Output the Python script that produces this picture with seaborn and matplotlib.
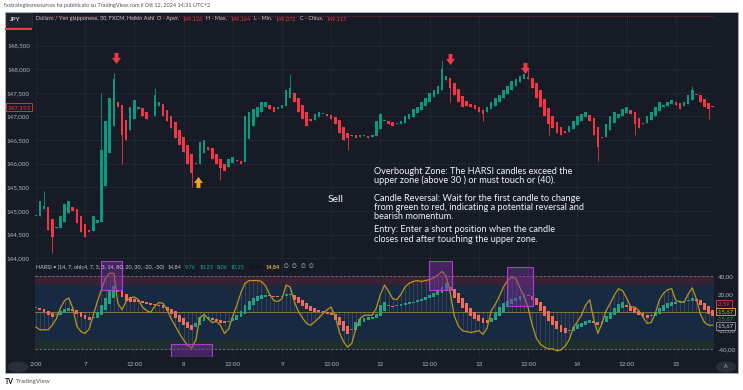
import numpy as np
import pandas as pd
import matplotlib
matplotlib.use("Agg")
import matplotlib.pyplot as plt
from matplotlib.patches import Rectangle, Circle
from matplotlib.path import Path
import seaborn as sns

# USD/JPY Heikin Ashi + HARSI, valori letti a occhio dal grafico (1 valore per ora)
# indice 0 = giorno 7 ore 00:00, il weekend e' saltato come su TradingView
price_close = [
    144.9, 145.2, 145.1, 144.6, 144.45, 144.65, 144.9, 145.15, 145.2, 145.0, 144.75, 144.55,
    144.45, 144.55, 144.9, 144.8, 146.3, 146.9, 147.4, 147.8, 147.2, 146.6, 146.5, 147.2,
    147.35, 147.2, 147.0, 146.95, 147.0, 147.45, 147.3, 147.0, 146.9, 146.75, 146.55, 146.4,
    146.25, 146.0, 145.8, 146.0, 146.45, 146.5, 146.3, 146.1, 146.0, 145.9, 145.85, 146.1,
    146.15, 146.05, 146.0, 147.0, 147.1, 147.15, 147.2, 147.3, 147.3, 147.15, 147.1, 147.2,
    147.25, 147.55, 147.6, 147.3, 147.1, 146.95, 146.8, 146.9, 147.05, 147.1, 147.05, 147.0,
    146.95, 146.85, 146.65, 146.5, 146.55, 146.6, 146.55, 146.6, 146.6, 146.55, 146.6, 146.9,
    147.05, 146.9, 146.85, 146.8, 146.85, 146.9, 147.0, 147.05, 147.15, 147.2, 147.3, 147.4,
    147.5, 147.55, 147.65, 148.0, 147.85, 147.6, 147.45, 147.3, 147.2, 147.22, 147.2, 147.15,
    147.1, 147.05, 147.2, 147.3, 147.4, 147.45, 147.55, 147.65, 147.75, 147.8, 147.85, 147.9,
    147.8, 147.6, 147.4, 147.2, 147.0, 146.85, 146.75, 146.65, 146.6, 146.65, 146.8, 146.9,
    147.0, 147.05, 147.1, 146.9, 146.6, 146.35, 146.55, 146.85, 147.0, 147.1, 147.05, 147.15,
    147.2, 147.05, 146.85, 146.75, 146.85, 147.0, 147.1, 147.2, 147.3, 147.25, 147.3, 147.35,
    147.25, 147.15, 147.3, 147.45, 147.55, 147.45, 147.3, 147.2, 147.15, 147.19,
]
rsi_line = [
    -16, -19, -19, -19, -14, -7, 5, 13, 16, 5, -15, -21,
    -23, -18, -3, 12, 25, 38, 43, 43, 10, 3, 12, 16,
    17, 14, 6, 2, 0, 7, 11, 10, 3, -7, -15, -23,
    -30, -36, -39, -30, -6, -2, -7, -11, -10, -14, -23, -18,
    -4, 8, 22, 32, 35, 35, 35, 34, 29, 20, 13, 12,
    15, 30, 28, 12, 1, -6, -12, -14, -10, -6, -1, 3,
    6, -5, -22, -32, -38, -34, -18, -7, -3, -3, -3, 5,
    20, 30, 23, 15, 14, 20, 28, 32, 34, 35, 34, 35,
    36, 38, 41, 45, 40, 22, -4, -15, -20, -21, -22, -21,
    -20, -24, -17, 2, 9, 18, 28, 35, 39, 37, 27, 18,
    5, -14, -28, -35, -38, -40, -40, -42, -41, -37, -30, -17,
    -10, -3, 8, 14, -8, -23, -12, 2, 10, 19, 26, 24,
    16, 6, 6, 2, -5, -12, -11, -1, 14, 21, 25, 26,
    13, 12, 11, 20, 27, 15, -2, -11, -14, -14,
]
harsi_close = [
    5, 3, 0, -3, -5, -2, 2, 4, 5, 2, -2, -5,
    -7, -8, -5, 0, 8, 16, 23, 29, 24, 17, 13, 12,
    12, 11, 10, 9, 8, 8, 7, 5, 2, -2, -6, -10,
    -14, -17, -19, -12, -5, -4, -6, -8, -9, -11, -12, -9,
    -6, -3, 2, 8, 13, 16, 18, 19, 19, 18, 17, 17,
    18, 20, 19, 14, 10, 7, 4, 2, 1, 0, -1, -2,
    -3, -8, -14, -20, -24, -18, -10, -7, -6, -5, -6, -2,
    8, 12, 8, 6, 7, 9, 10, 11, 12, 14, 15, 17,
    19, 21, 24, 28, 32, 24, 16, 10, 5, 0, -4, -7,
    -9, -11, -12, -6, 0, 6, 10, 13, 15, 16, 18, 20,
    18, 14, 8, 2, -4, -9, -14, -18, -21, -23, -20, -16,
    -13, -11, -9, -8, -12, -14, -9, -4, 1, 5, 9, 11,
    6, 2, -1, -3, -5, -6, -4, 0, 5, 8, 10, 11,
    12, 12, 13, 14, 16, 13, 8, 3, -2, -4,
]
# ombre lunghe visibili
hi_idx = [-10, 4, 7, 17, 50, 87, 108, 148]
hi_val = [145.42, 147.5, 147.92, 147.6, 147.9, 148.2, 148.0, 147.65]
lo_idx = [-8, 3, 9, 26, 33, 64, 89, 97, 113, 125, 134, 152]
lo_val = [144.1, 144.75, 146.0, 145.5, 145.65, 146.3, 147.3, 146.9, 146.6, 146.05, 146.6, 146.95]

tick_pos = [-12, 0, 12, 24, 36, 48, 60, 72, 84, 96, 108, 120, 132, 144]
tick_lab = ["2:00", "7", "12:00", "8", "12:00", "9", "12:00", "12", "12:00", "13", "12:00", "14", "12:00", "15"]
price_ticks = [144.0, 144.5, 145.0, 145.5, 146.0, 146.5, 147.0, 147.5, 148.0, 148.5]
osc_ticks = [40, 20, -20, -40]

# frecce e rettangoli disegnati dall'autore (indice, valore)
arrow_down = [(7.55, 148.245), (88.9, 148.21), (107.2, 148.03)]
arrow_up = [(27.5, 145.61)]
boxes = [(3.9, 24.7, 9.0, 56.4), (21.0, -48.8, 30.9, -34.5),
         (83.8, 25.0, 89.4, 56.4), (102.8, 7.1, 109.2, 49.9)]

W, H = 743, 390
BG = '#171B26'
GRID = '#232733'
TXT = '#B2B5BE'
UP, DN = '#089981', '#F23645'
OUP, ODN = '#22A386', '#F26B5B'

sns.set_theme(style="dark")
plt.rcParams['font.family'] = ['Lato', 'DejaVu Sans']


def px(x, y):
    return x / W, 1 - y / H


def ha_open(close):
    o = np.empty(len(close))
    o[0] = close[0]
    for k in range(1, len(close)):
        o[k] = (o[k - 1] + close[k - 1]) / 2
    return o


def in_fila(fig, x, y, pezzi, size, gap=3.5):
    # scrive i pezzi uno dopo l'altro senza sovrapporli
    r = fig.canvas.get_renderer()
    for s, c, w in pezzi:
        t = fig.text(*px(x, y), s, fontsize=size, color=c, fontweight=w, va='center')
        x += t.get_window_extent(r).width + gap


idx = np.arange(-12, -12 + len(price_close))
df = pd.DataFrame({'i': idx, 'close': price_close, 'rsi': rsi_line, 'hc': harsi_close})
df['open'] = ha_open(df['close'].values)
df['ho'] = ha_open(df['hc'].values.astype(float))
df['high'] = df[['open', 'close']].max(axis=1)
df['low'] = df[['open', 'close']].min(axis=1)
for k, v in zip(hi_idx, hi_val):
    df.loc[df['i'] == k, 'high'] = max(v, df.loc[df['i'] == k, 'high'].iloc[0])
for k, v in zip(lo_idx, lo_val):
    df.loc[df['i'] == k, 'low'] = min(v, df.loc[df['i'] == k, 'low'].iloc[0])

fig = plt.figure(figsize=(W / 100, H / 100), dpi=100, facecolor='white')
fig.patches.append(Rectangle(px(5, 373), 733 / W, 361 / H, transform=fig.transFigure,
                             facecolor=BG, edgecolor='#A9ADB7', lw=0.7, zorder=-5))

ax = fig.add_axes([35 / W, 1 - 261 / H, 679 / W, 248 / H])
ax2 = fig.add_axes([35 / W, 1 - 357 / H, 679 / W, 96 / H], sharex=ax)
for a in (ax, ax2):
    a.set_facecolor(BG)
    for s in a.spines.values():
        s.set_visible(False)
    a.set_xticks(tick_pos)
    a.grid(axis='x', color=GRID, lw=0.6)
    a.tick_params(length=0, labelsize=4.5, colors=TXT)

# --- pannello prezzi (Heikin Ashi)
ax.set_xlim(-12.2, 153.3)
ax.set_ylim(143.94, 149.19)
ax.set_yticks(price_ticks)
ax.set_yticklabels([f"{v:.3f}".replace('.', ',') for v in price_ticks])
ax.grid(axis='y', color=GRID, lw=0.6)
ax.tick_params(axis='y', pad=3.6)
ax.tick_params(axis='x', labelbottom=False)

col = np.where(df['close'] >= df['open'], UP, DN)
ax.vlines(df['i'], df['low'], df['high'], colors=col, lw=0.6, zorder=2)
body = np.maximum((df['close'] - df['open']).abs(), 0.02)
ax.bar(df['i'], body, bottom=df[['open', 'close']].min(axis=1), width=0.62, color=col, lw=0, zorder=3)
ax.axhline(149.117, color=DN, lw=0.6, ls=(0, (1, 1.5)), alpha=0.6)

arr = Path([(-0.35, 1), (0.35, 1), (0.35, 0.1), (0.8, 0.1), (0, -1), (-0.8, 0.1), (-0.35, 0.1), (-0.35, 1)],
           [Path.MOVETO] + [Path.LINETO] * 6 + [Path.CLOSEPOLY])
arr_up = Path(arr.vertices * [1, -1], arr.codes)
for x, y in arrow_down:
    ax.plot(x, y, marker=arr, ms=8, color='#EE3A45', mew=0, zorder=5)
for x, y in arrow_up:
    ax.plot(x, y, marker=arr_up, ms=8, color='#F7A21B', mew=0, zorder=5)

ax.text(-0.006, 147.193, "147,193", transform=ax.get_yaxis_transform(), ha='right', va='center',
        fontsize=4.5, color=DN, bbox=dict(boxstyle='square,pad=0.25', fc=BG, ec=DN, lw=0.6))

# --- pannello HARSI
ax2.set_ylim(-48.8, 56.4)
ax2.yaxis.tick_right()
ax2.set_yticks(osc_ticks)
ax2.set_yticklabels([f"{v:.2f}".replace('.', ',') for v in osc_ticks])
ax2.tick_params(axis='y', pad=2.9)
ax2.set_xticklabels(tick_lab)
ax2.tick_params(axis='x', pad=3.6)

ax2.axhspan(30, 40, color='#3A2233', lw=0, zorder=0)
ax2.axhspan(-30, 30, color='#182A42', lw=0, zorder=0)
ax2.axhspan(-40, -30, color='#1C2F2C', lw=0, zorder=0)
for lv in (40, -40):
    ax2.axhline(lv, color='#787B86', lw=0.6, ls=(0, (3, 2)), zorder=1)
ax2.axhline(0, color='#8A7630', lw=0.7, zorder=1)

ax2.vlines(df['i'], 0, df['rsi'], colors='#A0A4AE', alpha=0.3, lw=0.5, zorder=1)
hcol = np.where(df['hc'] >= df['ho'], OUP, ODN)
hbody = np.maximum((df['hc'] - df['ho']).abs(), 1.3)
ax2.bar(df['i'], hbody, bottom=df[['ho', 'hc']].min(axis=1), width=0.7, color=hcol, lw=0, zorder=2)
sns.lineplot(data=df, x='i', y='rsi', ax=ax2, color='#B8951F', lw=0.9, zorder=3)
ax2.set_xlabel('')
ax2.set_ylabel('')

for x0, y0, x1, y1 in boxes:
    ax2.add_patch(Rectangle((x0, y0), x1 - x0, y1 - y0, facecolor='#7B2FA0', alpha=0.45,
                            edgecolor='none', zorder=4))
    ax2.add_patch(Rectangle((x0, y0), x1 - x0, y1 - y0, facecolor='none',
                            edgecolor='#B23DD6', lw=0.8, zorder=4))

# --- testi
fig.text(*px(4, 6), "fxstrategiesresources ha pubblicato su TradingView.com il Ott 12, 2024 14:31 UTC+2",
         fontsize=4, color='#50535E', va='center')
fig.patches.append(Rectangle(px(6, 27), 26 / W, 14 / H, transform=fig.transFigure,
                             facecolor='#1E222D', edgecolor='#2A2E39', lw=0.6, zorder=1))
fig.patches.append(Rectangle(px(5, 29.5), 27 / W, 1.5 / H, transform=fig.transFigure,
                             facecolor=DN, lw=0, zorder=1))
fig.text(*px(10, 19.5), "JPY", fontsize=4.5, color='#D1D4DC', fontweight='bold', va='center')
LT = '#C9CCD4'
in_fila(fig, 36, 18.5, [("Dollaro / Yen giapponese, 30, FXCM, Heikin Ashi  O - Aper.", LT, 'normal'),
                        ("149,126", DN, 'normal'), ("H - Max.", LT, 'normal'), ("149,164", DN, 'normal'),
                        ("L - Min.", LT, 'normal'), ("149,072", DN, 'normal'),
                        ("C - Chius.", LT, 'normal'), ("149,117", DN, 'normal')], 4.0)

in_fila(fig, 36, 267, [("HARSI • (14, 7, ohlc4, 7, 3, 3, 14, 80, 20, 30, -20, -30)", LT, 'normal'),
                       ("14,84", LT, 'normal'), ("9,76", '#22AB94', 'normal'),
                       ("10,25", '#22AB94', 'normal'), ("8,06", '#22AB94', 'normal'),
                       ("10,25", '#22AB94', 'normal'), ("14,84", '#0B0E14', 'normal'),
                       ("14,84", '#E8B923', 'bold'), ("∅", LT, 'normal'), ("∅", LT, 'normal'),
                       ("∅", LT, 'normal'), ("∅", LT, 'normal')], 4.0)

vals = [(304, "-3,59", DN, DN), (311.7, "-15,67", '#E8B923', '#E8B923'),
        (319, "-15,67", '#787B86', None), (326, "-15,67", '#D1D4DC', '#9598A1')]
for y, s, c, e in vals:
    kw = dict(boxstyle='square,pad=0.2', fc=BG, ec=e, lw=0.6) if e else None
    fig.text(*px(717, y), s, fontsize=4.2, color=c, va='center', bbox=kw, zorder=6)

note = [(171, "Overbought Zone: The HARSI candles exceed the"),
        (180.7, "upper zone (above 30 ) or must touch or (40)."),
        (198.3, "Candle Reversal: Wait for the first candle to change"),
        (207.7, "from green to red, indicating a potential reversal and"),
        (216.7, "bearish momentum."),
        (230, "Entry: Enter a short position when the candle"),
        (239, "closes red after touching the upper zone.")]
for y, s in note:
    fig.text(*px(374, y), s, fontsize=6.6, color='#F0F3FA', va='center')
fig.text(*px(336, 199), "Sell", fontsize=7.5, color='#F0F3FA', ha='center', va='center')

for cx, s in ((18, ""), (726, "A")):
    fig.patches.append(Circle(px(cx, 367), 5.5 / H, transform=fig.transFigure,
                              facecolor='#2A2E39', lw=0, zorder=1))
    fig.text(*px(cx, 367), s, fontsize=3.8, color=TXT, ha='center', va='center')

fig.text(*px(5, 382), "TV", fontsize=5, color='#131722', fontweight='bold', va='center')
fig.text(*px(16, 382), "TradingView", fontsize=4.5, color='#50535E', va='center')

fig.savefig('out.png', dpi=100, facecolor='white')
